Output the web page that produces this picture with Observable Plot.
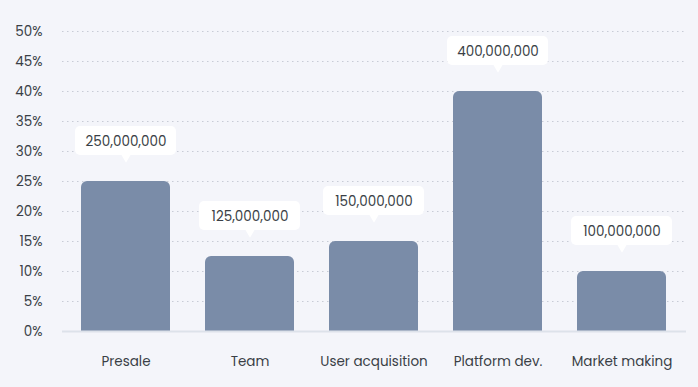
<!DOCTYPE html>
<html><head><meta charset="utf-8">
<script src="https://cdn.jsdelivr.net/npm/d3@7"></script>
<script src="https://cdn.jsdelivr.net/npm/@observablehq/plot@0.6"></script>
<style>
html,body{margin:0;padding:0;background:#f4f5fa;}
#chart svg{display:block;font-family:Poppins,Inter,"Open Sans",sans-serif;}
</style></head>
<body><div id="chart"></div>
<script>
const categories = ["Presale", "Team", "User acquisition", "Platform dev.", "Market making"];
const tokens = [250000000, 125000000, 150000000, 400000000, 100000000];
const shares = [25, 12.5, 15, 40, 10];
const yTicks = [0, 5, 10, 15, 20, 25, 30, 35, 40, 45, 50];

const data = categories.map((c, i) => ({cat: c, tokens: tokens[i], share: shares[i], half: shares[i] / 2}));
const fmt = d3.format(",");
const ink = "#3a3f46";

const chart = Plot.plot({
  width: 698, height: 387,
  marginLeft: 62, marginRight: 12, marginTop: 31, marginBottom: 56,
  style: {background: "#f4f5fa", fontSize: "13px", color: ink},
  x: {domain: categories, paddingInner: 0.28, paddingOuter: 0.14, label: null, tickSize: 0, tickPadding: 25},
  y: {domain: [0, 50], ticks: yTicks, label: null, tickSize: 0, tickPadding: 20, tickFormat: d => d + "%"},
  marks: [
    Plot.gridY(yTicks.filter(d => d > 0), {stroke: "#c3c8d1", strokeOpacity: 0.9, strokeDasharray: "1.5,3.5", strokeWidth: 1.2}),
    Plot.barY(data, {x: "cat", y: "share", fill: "#7a8ca8", rx: 6}),
    Plot.barY(data, {x: "cat", y: "half", fill: "#7a8ca8"}),
    Plot.ruleY([0], {stroke: "#dde2ea", strokeWidth: 2}),
    Plot.barY(data, {x: "cat", y1: "share", y2: "share", fill: "white", rx: 5,
      insetLeft: -6, insetRight: -6, insetTop: -55, insetBottom: 26}),
    Plot.dot(data, {x: "cat", y: "share", symbol: "triangle", fill: "white", r: 4, rotate: 180, dy: -25}),
    Plot.text(data, {x: "cat", y: "share", text: d => fmt(d.tokens), dy: -40, fontSize: 13.5, fill: ink})
  ]
});
chart.querySelectorAll('[aria-label="x-axis tick label"] text').forEach(t => t.setAttribute("font-size", 13.5));
chart.querySelectorAll('[aria-label="y-axis tick label"] text').forEach(t => t.setAttribute("font-size", 13.5));
document.getElementById("chart").append(chart);
</script></body></html>
